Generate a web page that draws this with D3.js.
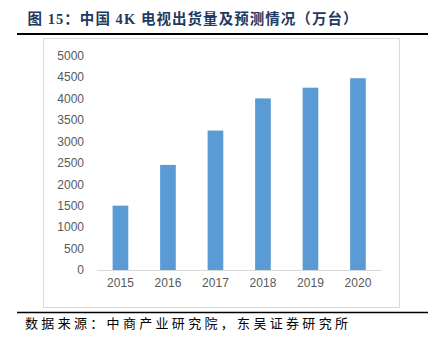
<!DOCTYPE html>
<html><head><meta charset="utf-8">
<script src="https://cdn.jsdelivr.net/npm/d3@7"></script>
<style>html,body{margin:0;padding:0;background:#fff;}svg{display:block;}</style>
</head><body>
<script>
const categories = ["2015","2016","2017","2018","2019","2020"];
const values = [1500, 2450, 3250, 4000, 4250, 4470];
const yTicks = [0,500,1000,1500,2000,2500,3000,3500,4000,4500,5000];
const titleText = "图 15：中国 4K 电视出货量及预测情况（万台）";
const sourceText = "数据来源：中商产业研究院，东吴证券研究所";

const W = 437, H = 338;
const svg = d3.select("body").append("svg").attr("width", W).attr("height", H);

// title
svg.append("text").attr("x", 27.5).attr("y", 24)
  .attr("font-family", "'Liberation Serif','Noto Sans CJK SC',serif")
  .attr("font-weight", "bold").attr("font-size", 14.5).attr("fill", "#1f3a60")
  .attr("textLength", 330).attr("lengthAdjust", "spacing")
  .text(titleText);
svg.append("line").attr("x1", 17).attr("x2", 428).attr("y1", 34).attr("y2", 34)
  .attr("stroke", "#000").attr("stroke-width", 2);

// chart frame
svg.append("rect").attr("x", 43.5).attr("y", 38.5).attr("width", 356).attr("height", 269)
  .attr("fill", "#fff").attr("stroke", "#d9d9d9").attr("stroke-width", 1);

const x = d3.scaleBand().domain(categories).range([96.7, 381.7]).paddingInner(0.67).paddingOuter(0.335);
const y = d3.scaleLinear().domain([0, 5000]).range([270, 55.5]);

const g = svg.append("g");
g.selectAll("rect.bar").data(values).enter().append("rect").attr("class","bar")
  .attr("x", (d,i) => x(categories[i])).attr("width", x.bandwidth())
  .attr("y", d => y(d)).attr("height", d => y(0) - y(d))
  .attr("fill", "#5b9bd5");

// y axis
const yAxis = d3.axisLeft(y).tickValues(yTicks).tickFormat(d3.format("d")).tickSize(0).tickPadding(0);
const ya = svg.append("g").attr("transform", "translate(84,0)").call(yAxis);
ya.select(".domain").remove();
ya.selectAll("text").attr("font-family", "'Liberation Sans','DejaVu Sans',sans-serif")
  .attr("font-size", 12).attr("fill", "#595959");

// x axis
const xAxis = d3.axisBottom(x).tickSize(0).tickPadding(8);
const xa = svg.append("g").attr("transform", "translate(0,270)").call(xAxis);
xa.select(".domain").attr("d", "M96.7,0.5H381.7").attr("stroke", "#d9d9d9");
xa.selectAll("text").attr("font-family", "'Liberation Sans','DejaVu Sans',sans-serif")
  .attr("font-size", 12).attr("fill", "#595959");

// bottom line and source
svg.append("line").attr("x1", 17).attr("x2", 428).attr("y1", 312.5).attr("y2", 312.5)
  .attr("stroke", "#000").attr("stroke-width", 1.5);
svg.append("text").attr("x", 25).attr("y", 328)
  .attr("font-family", "'Noto Sans CJK SC',sans-serif")
  .attr("font-size", 13).attr("fill", "#000")
  .attr("textLength", 323).attr("lengthAdjust", "spacing")
  .text(sourceText);
</script>
</body></html>
